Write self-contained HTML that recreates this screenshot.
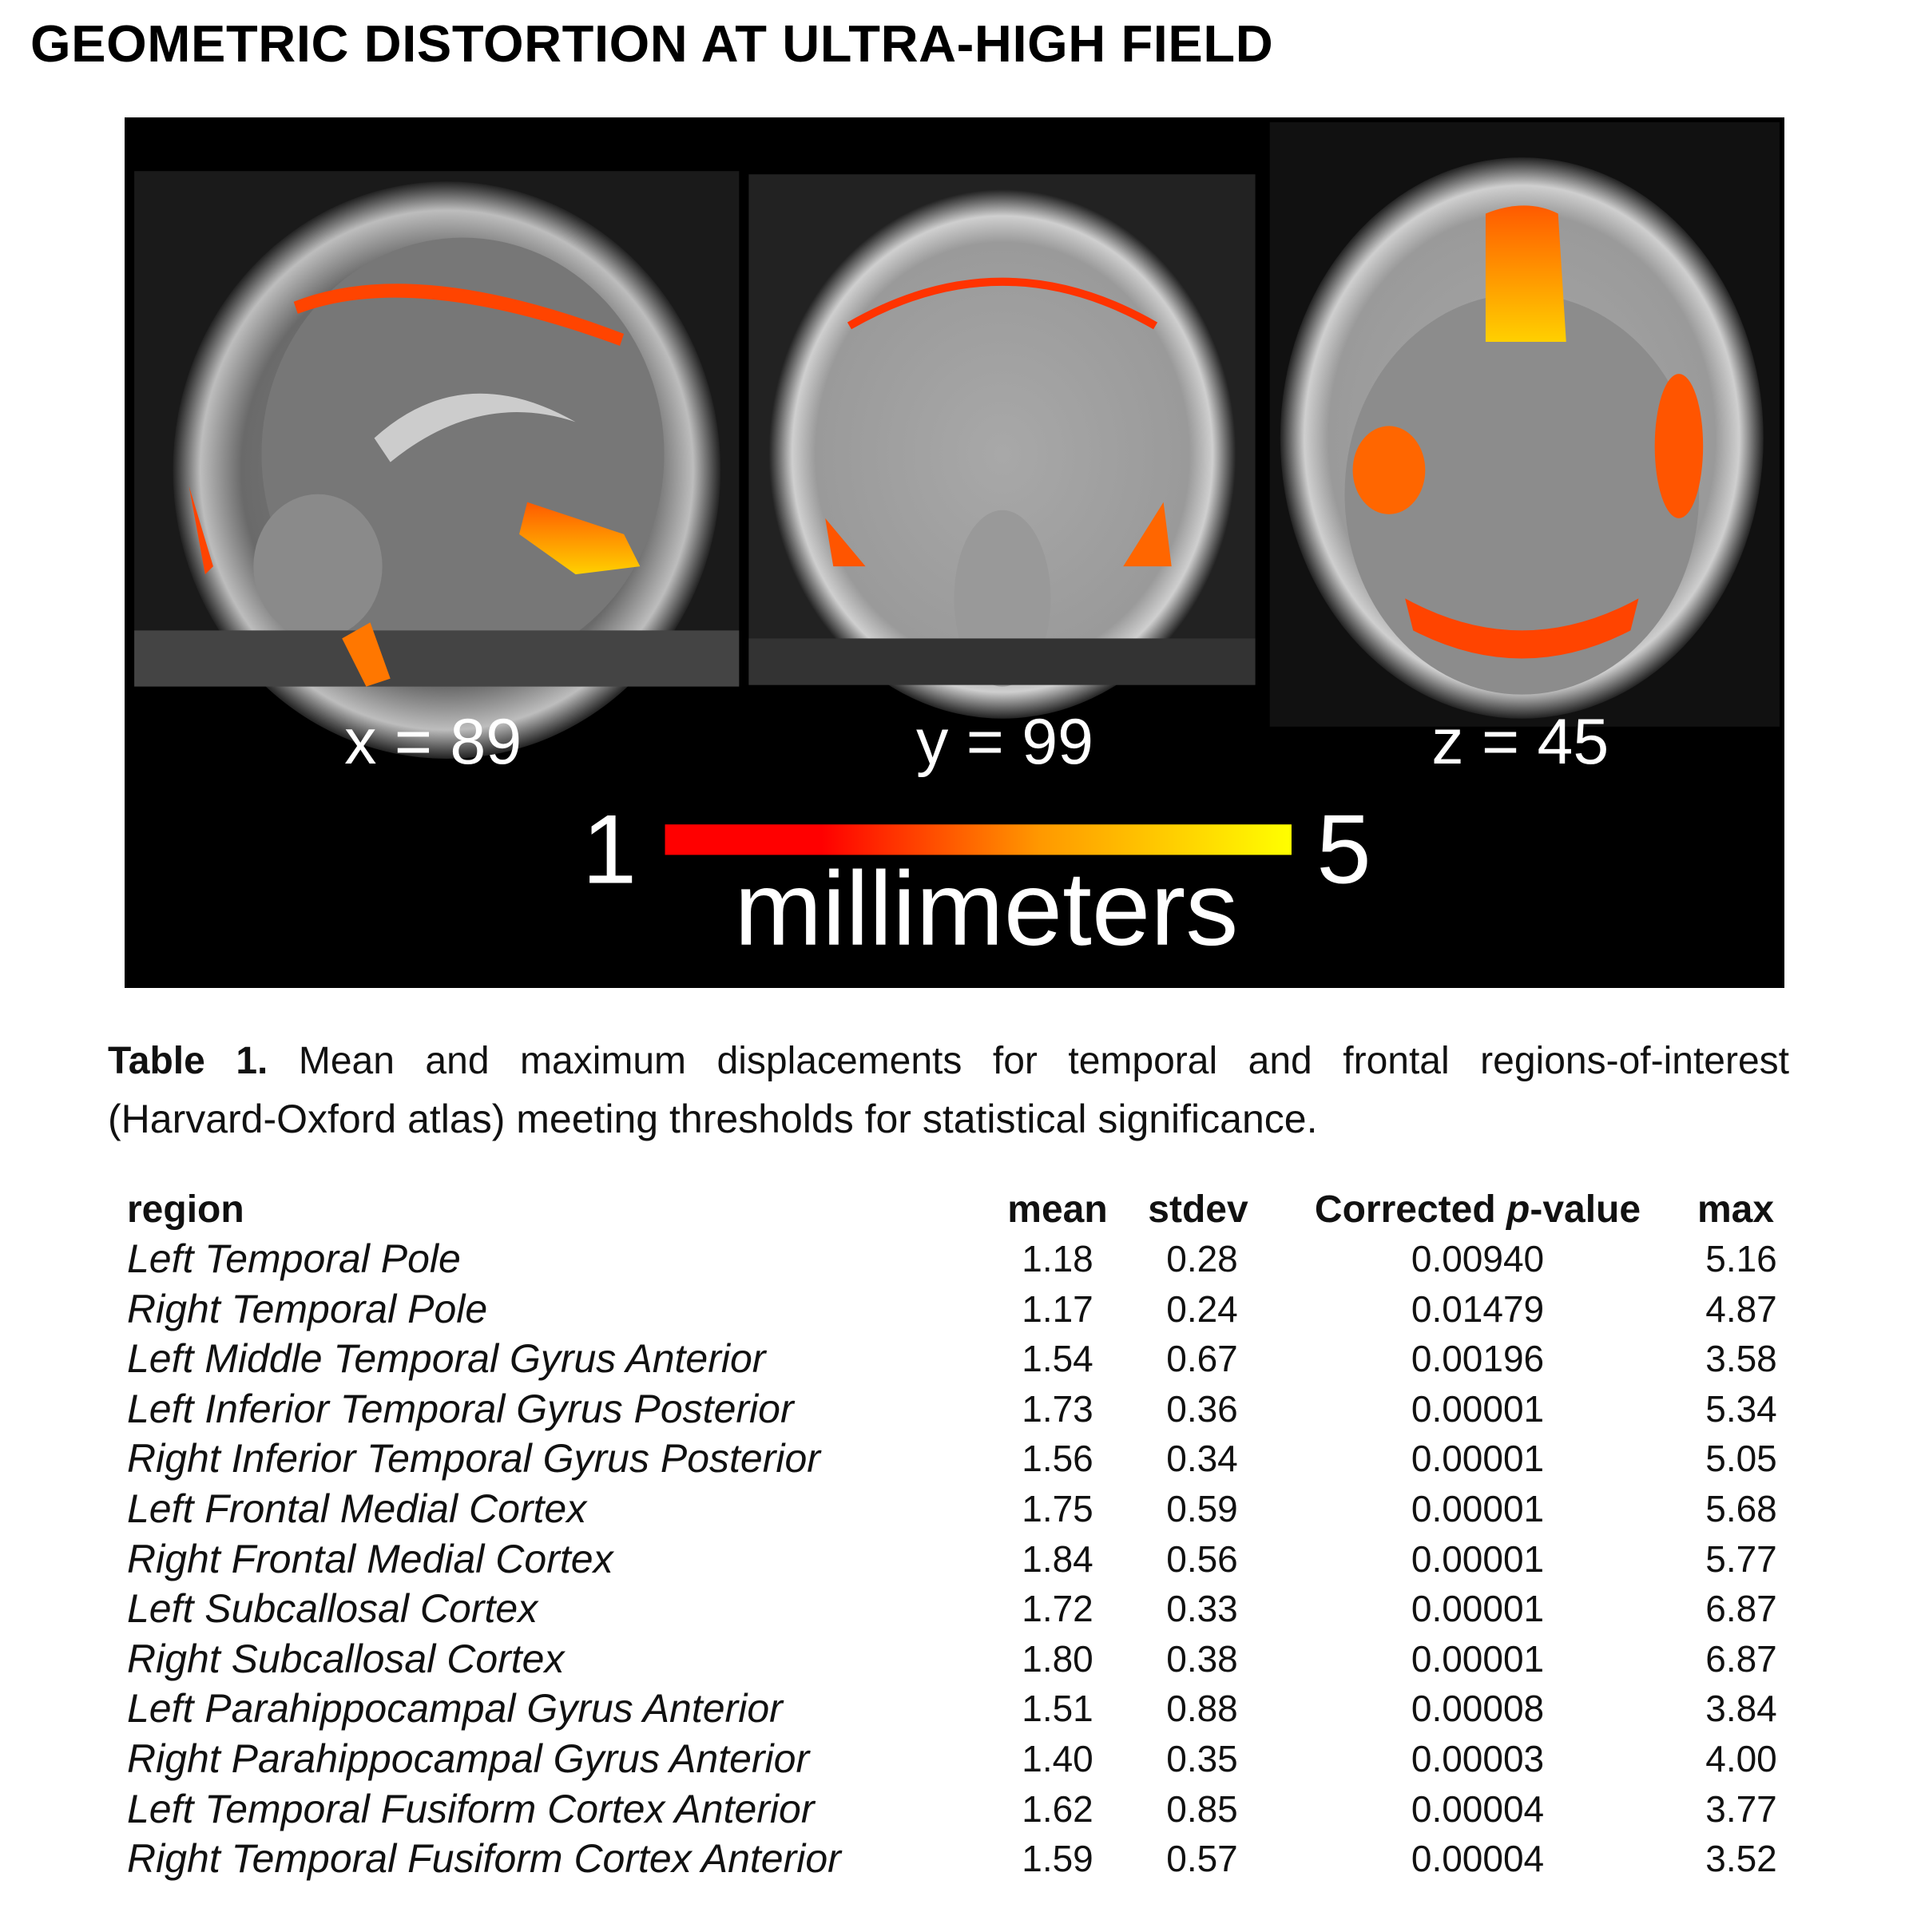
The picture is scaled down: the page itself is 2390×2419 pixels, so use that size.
<!DOCTYPE html>
<html><head><meta charset="utf-8"><style>
body{margin:0;width:2390px;height:2419px;background:#fff;position:relative;overflow:hidden;font-family:"Liberation Sans",sans-serif}
.a{position:absolute;white-space:nowrap}
.t{font-size:46px;line-height:62.6px;color:#111}
.r{font-style:italic;font-size:50px}
.c{text-align:center;width:200px}
</style></head><body>
<div class="a" style="left:38px;top:17px;font-size:65px;font-weight:bold;letter-spacing:0.6px">GEOMETRIC DISTORTION AT ULTRA-HIGH FIELD</div>
<svg class="a" style="left:156px;top:147px" width="2078" height="1090" viewBox="0 0 2061 1086" preserveAspectRatio="none">
<defs>
<radialGradient id="g1" cx="50%" cy="50%" r="50%"><stop offset="0" stop-color="#8a8a8a"/><stop offset=".75" stop-color="#6a6a6a"/><stop offset=".9" stop-color="#bdbdbd"/><stop offset="1" stop-color="#222"/></radialGradient>
<radialGradient id="g2" cx="50%" cy="50%" r="50%"><stop offset="0" stop-color="#a8a8a8"/><stop offset=".8" stop-color="#9a9a9a"/><stop offset=".9" stop-color="#cfcfcf"/><stop offset="1" stop-color="#222"/></radialGradient>
<linearGradient id="cb" x1="0" x2="1"><stop offset="0" stop-color="#f00"/><stop offset=".25" stop-color="#f00"/><stop offset=".6" stop-color="#f90"/><stop offset="1" stop-color="#ff0"/></linearGradient>
<linearGradient id="hot" x1="0" y1="0" x2="0" y2="1"><stop offset="0" stop-color="#ff5a00"/><stop offset="1" stop-color="#ffd000"/></linearGradient>
</defs>
<rect width="2061" height="1086" fill="#000"/>
<rect x="12" y="67" width="751" height="641" fill="#1a1a1a"/>
<ellipse cx="400" cy="440" rx="340" ry="360" fill="url(#g1)"/>
<ellipse cx="420" cy="420" rx="250" ry="270" fill="#777"/>
<path d="M310 400 Q420 300 560 380 Q440 340 330 430Z" fill="#ccc"/>
<ellipse cx="240" cy="560" rx="80" ry="90" fill="#8a8a8a"/>
<rect x="12" y="640" width="751" height="70" fill="#444"/>
<path d="M210 230 Q360 170 620 270 L615 285 Q360 190 215 245Z" fill="#f40"/>
<path d="M500 480 L620 520 L640 560 L560 570 L490 520Z" fill="url(#hot)"/>
<path d="M270 650 L305 630 L330 700 L300 710Z" fill="#f70"/>
<path d="M80 460 L110 560 L100 570Z" fill="#f40"/>
<rect x="775" y="71" width="629" height="637" fill="#222"/>
<ellipse cx="1090" cy="420" rx="290" ry="330" fill="url(#g2)"/>
<path d="M900 260 Q1090 150 1280 260" stroke="#f30" stroke-width="10" fill="none"/>
<path d="M870 500 L920 560 L880 560Z" fill="#f50"/>
<path d="M1290 480 L1300 560 L1240 560Z" fill="#f60"/>
<ellipse cx="1090" cy="600" rx="60" ry="110" fill="#999"/>
<rect x="775" y="650" width="629" height="58" fill="#333"/>
<rect x="1422" y="6" width="633" height="754" fill="#111"/>
<ellipse cx="1735" cy="400" rx="300" ry="350" fill="url(#g2)"/>
<ellipse cx="1735" cy="470" rx="220" ry="250" fill="#8c8c8c"/>
<path d="M1690 120 Q1740 100 1780 120 L1790 280 L1690 280Z" fill="url(#hot)"/>
<ellipse cx="1570" cy="440" rx="45" ry="55" fill="#f60"/>
<ellipse cx="1930" cy="410" rx="30" ry="90" fill="#f50"/>
<path d="M1590 600 Q1735 680 1880 600 L1870 640 Q1735 710 1600 640Z" fill="#f40"/>
<rect x="671" y="882" width="778" height="38" fill="url(#cb)"/>
<g fill="#fff" font-family="Liberation Sans,sans-serif" text-anchor="middle">
<text x="383" y="806" font-size="80">x = 89</text>
<text x="1093" y="806" font-size="80">y = 99</text>
<text x="1733" y="806" font-size="80">z = 45</text>
<text x="602" y="955" font-size="122">1</text>
<text x="1514" y="955" font-size="122">5</text>
<text x="1070" y="1032" font-size="131">millimeters</text>
</g>
</svg>
<div class="a" style="left:135px;top:1293px;width:2105px;font-size:48px;line-height:72px;text-align:justify;text-align-last:justify;white-space:normal;color:#111"><b>Table 1.</b> Mean and maximum displacements for temporal and frontal regions-of-interest</div>
<div class="a" style="left:135px;top:1365px;font-size:50px;line-height:72px;color:#111">(Harvard-Oxford atlas) meeting thresholds for statistical significance.</div>
<div class="a t" style="left:159px;top:1484px;font-weight:bold;font-size:48px">region</div>
<div class="a t c" style="left:1224px;top:1484px;font-weight:bold;font-size:48px">mean</div>
<div class="a t c" style="left:1400px;top:1484px;font-weight:bold;font-size:48px">stdev</div>
<div class="a t" style="left:1630px;top:1484px;width:440px;text-align:center;font-weight:bold;font-size:48px">Corrected <i>p</i>-value</div>
<div class="a t c" style="left:2073px;top:1484px;font-weight:bold;font-size:48px">max</div>
<div class="a t r" style="left:159px;top:1545px">Left Temporal Pole<br>Right Temporal Pole<br>Left Middle Temporal Gyrus Anterior<br>Left Inferior Temporal Gyrus Posterior<br>Right Inferior Temporal Gyrus Posterior<br>Left Frontal Medial Cortex<br>Right Frontal Medial Cortex<br>Left Subcallosal Cortex<br>Right Subcallosal Cortex<br>Left Parahippocampal Gyrus Anterior<br>Right Parahippocampal Gyrus Anterior<br>Left Temporal Fusiform Cortex Anterior<br>Right Temporal Fusiform Cortex Anterior</div>
<div class="a t c" style="left:1224px;top:1545px">1.18<br>1.17<br>1.54<br>1.73<br>1.56<br>1.75<br>1.84<br>1.72<br>1.80<br>1.51<br>1.40<br>1.62<br>1.59</div>
<div class="a t c" style="left:1405px;top:1545px">0.28<br>0.24<br>0.67<br>0.36<br>0.34<br>0.59<br>0.56<br>0.33<br>0.38<br>0.88<br>0.35<br>0.85<br>0.57</div>
<div class="a t c" style="left:1750px;top:1545px">0.00940<br>0.01479<br>0.00196<br>0.00001<br>0.00001<br>0.00001<br>0.00001<br>0.00001<br>0.00001<br>0.00008<br>0.00003<br>0.00004<br>0.00004</div>
<div class="a t c" style="left:2080px;top:1545px">5.16<br>4.87<br>3.58<br>5.34<br>5.05<br>5.68<br>5.77<br>6.87<br>6.87<br>3.84<br>4.00<br>3.77<br>3.52</div>
</body></html>
